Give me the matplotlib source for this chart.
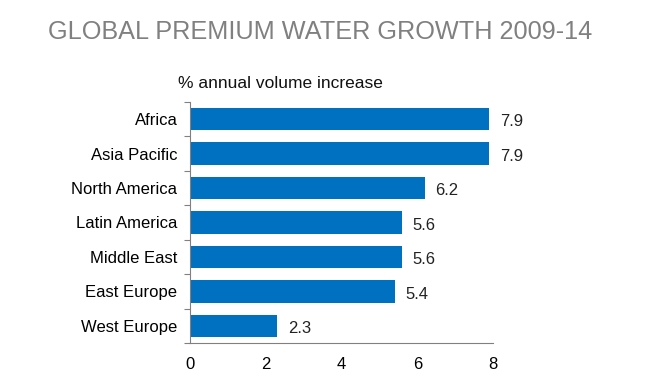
import matplotlib.pyplot as plt

plt.rcParams['font.family'] = ['Liberation Sans', 'DejaVu Sans']

regions = ['Africa', 'Asia Pacific', 'North America', 'Latin America',
           'Middle East', 'East Europe', 'West Europe']
growth = [7.9, 7.9, 6.2, 5.6, 5.6, 5.4, 2.3]
x_ticks = [0, 2, 4, 6, 8]

fig = plt.figure(figsize=(6.5, 3.9), dpi=100)
ax = fig.add_axes([0.2923, 0.1205, 0.4662, 0.618])

pos = list(range(len(regions)))
ax.barh(pos, growth, height=0.65, color='#0070C0')
for p, v in zip(pos, growth):
    ax.text(v + 0.28, p + 0.08, f'{v:.1f}', va='center', ha='left', fontsize=12, color='#222222')

ax.set_ylim(len(regions) - 0.5, -0.5)
ax.set_xlim(0, 8)
ax.set_yticks([p - 0.5 for p in range(len(regions) + 1)])
ax.set_yticklabels([])
ax.set_yticks(pos, minor=True)
ax.set_yticklabels(regions, minor=True, fontsize=12)
ax.tick_params(axis='y', which='minor', length=0, pad=9)
ax.tick_params(axis='y', which='major', length=4, color='#808080')
ax.set_xticks(x_ticks)
ax.tick_params(axis='x', length=0, labelsize=12, pad=10)

for s in ['top', 'right']:
    ax.spines[s].set_visible(False)
for s in ['left', 'bottom']:
    ax.spines[s].set_color('#808080')

fig.text(0.074, 0.918, 'GLOBAL PREMIUM WATER GROWTH 2009-14', fontsize=18.2,
         color='#808080', va='center', ha='left')
fig.text(0.274, 0.786, '% annual volume increase', fontsize=12.5,
         color='#111111', va='center', ha='left')

fig.savefig('out.png', dpi=100)
